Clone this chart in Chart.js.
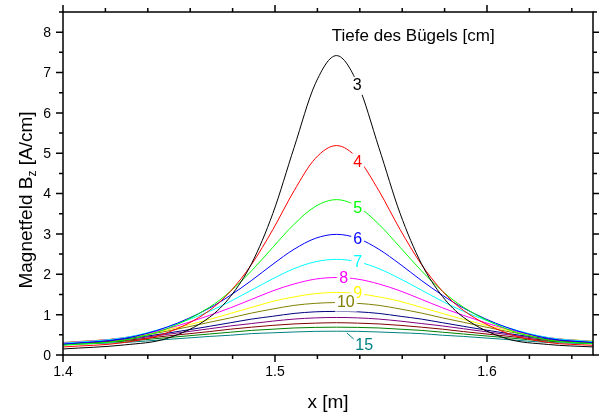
<!DOCTYPE html>
<html lang="de">
<head>
<meta charset="UTF-8">
<title>Magnetfeld Bz über dem Bügel</title>
<script src="https://cdn.jsdelivr.net/npm/chart.js"></script>
<style>
    html, body {
        margin: 0;
        padding: 0;
        background: #fff;
    }

    #wrap {
        width: 599px;
        height: 414px;
    }
</style>
</head>
<body>
<div id="wrap"><canvas id="feldChart" width="599" height="414"></canvas></div>
<script>
    // Messpositionen x [m]
    const xPos = [1.400, 1.429, 1.449, 1.469, 1.479, 1.489, 1.499, 1.509, 1.519, 1.529,
                  1.539, 1.549, 1.559, 1.569, 1.579, 1.589, 1.609, 1.629, 1.650];

    // Bz [A/cm] für jede Tiefe des Bügels [cm]
    const bz3  = [0.15, 0.25, 0.41, 0.93, 1.45, 2.27, 3.51, 5.14, 6.72, 7.42, 6.72, 5.14, 3.51, 2.27, 1.45, 0.93, 0.41, 0.26, 0.20];
    const bz4  = [0.20, 0.31, 0.55, 1.10, 1.58, 2.25, 3.11, 4.07, 4.87, 5.19, 4.87, 4.07, 3.11, 2.25, 1.58, 1.10, 0.55, 0.31, 0.24];
    const bz5  = [0.24, 0.37, 0.65, 1.18, 1.58, 2.09, 2.67, 3.24, 3.68, 3.85, 3.68, 3.24, 2.67, 2.09, 1.58, 1.18, 0.65, 0.37, 0.28];
    const bz6  = [0.27, 0.41, 0.69, 1.16, 1.48, 1.85, 2.25, 2.62, 2.89, 2.99, 2.89, 2.62, 2.25, 1.85, 1.48, 1.16, 0.69, 0.41, 0.31];
    const bz7  = [0.29, 0.43, 0.69, 1.08, 1.33, 1.61, 1.89, 2.14, 2.31, 2.37, 2.31, 2.14, 1.89, 1.61, 1.33, 1.08, 0.69, 0.43, 0.33];
    const bz8  = [0.30, 0.43, 0.65, 0.98, 1.17, 1.38, 1.59, 1.76, 1.88, 1.92, 1.88, 1.76, 1.59, 1.38, 1.17, 0.98, 0.65, 0.43, 0.33];
    const bz9  = [0.30, 0.43, 0.62, 0.88, 1.03, 1.18, 1.33, 1.44, 1.52, 1.55, 1.52, 1.44, 1.33, 1.18, 1.03, 0.88, 0.62, 0.43, 0.34];
    const bz10 = [0.31, 0.42, 0.59, 0.81, 0.92, 1.04, 1.14, 1.23, 1.28, 1.30, 1.28, 1.23, 1.14, 1.04, 0.92, 0.81, 0.59, 0.42, 0.34];
    const bz11 = [0.30, 0.40, 0.54, 0.71, 0.80, 0.89, 0.96, 1.03, 1.07, 1.08, 1.07, 1.03, 0.96, 0.89, 0.80, 0.71, 0.54, 0.40, 0.33];
    const bz12 = [0.29, 0.38, 0.51, 0.65, 0.72, 0.78, 0.84, 0.89, 0.92, 0.93, 0.92, 0.89, 0.84, 0.78, 0.72, 0.65, 0.51, 0.38, 0.32];
    const bz13 = [0.285, 0.36, 0.47, 0.58, 0.64, 0.69, 0.735, 0.77, 0.79, 0.80, 0.79, 0.77, 0.735, 0.69, 0.64, 0.58, 0.47, 0.36, 0.31];
    const bz14 = [0.28, 0.34, 0.43, 0.52, 0.565, 0.61, 0.64, 0.67, 0.684, 0.69, 0.684, 0.67, 0.64, 0.61, 0.565, 0.52, 0.43, 0.34, 0.30];
    const bz15 = [0.26, 0.31, 0.385, 0.46, 0.49, 0.53, 0.55, 0.57, 0.586, 0.59, 0.586, 0.57, 0.55, 0.53, 0.49, 0.46, 0.385, 0.31, 0.28];

    const tiefen = [3, 4, 5, 6, 7, 8, 9, 10, 11, 12, 13, 14, 15];
    const serien = [bz3, bz4, bz5, bz6, bz7, bz8, bz9, bz10, bz11, bz12, bz13, bz14, bz15];

    // Achsenbeschriftung
    const xTicks = [1.4, 1.5, 1.6];
    const yTicks = [0, 1, 2, 3, 4, 5, 6, 7, 8];

    // Kurvenbeschriftung direkt an den Linien (Position in Achsenwerten)
    const kurvenText = ['3', '4', '5', '6', '7', '8', '9', '10', '15'];
    const kurvenX = [1.5388, 1.5390, 1.5390, 1.5390, 1.5390, 1.5324, 1.5390, 1.5334, 1.5421];
    const kurvenY = [6.67, 4.77, 3.64, 2.85, 2.29, 1.89, 1.52, 1.30, 0.23];

    const farben = ['#000000', '#ff0000', '#00ff00', '#0000ff', '#00ffff', '#ff00ff', '#ffff00',
                    '#808000', '#000080', '#800080', '#800000', '#008000', '#008080'];

    const schrift = 'Arial, "Liberation Sans", Helvetica, sans-serif';
    Chart.defaults.font.family = schrift;
    Chart.defaults.color = '#000';

    function farbeFuer(text) {
        return farben[tiefen.indexOf(Number(text))];
    }

    // Rahmen mit Haupt- und Nebenstrichen nach außen
    const rahmen = {
        id: 'rahmen',
        afterDraw(chart) {
            const { ctx, chartArea: a, scales: { x, y } } = chart;
            ctx.save();
            ctx.strokeStyle = '#000';
            ctx.lineWidth = 1.5;
            ctx.strokeRect(a.left, a.top, a.right - a.left, a.bottom - a.top);

            ctx.beginPath();
            for (let v = 1.4; v < 1.65 + 1e-9; v += 0.02) {
                const px = x.getPixelForValue(v);
                const major = xTicks.some(t => Math.abs(t - v) < 1e-6);
                const len = major ? 7 : 4;
                ctx.moveTo(px, a.bottom);
                ctx.lineTo(px, a.bottom + len);
                ctx.moveTo(px, a.top);
                ctx.lineTo(px, a.top - len);
            }
            for (let v = 0; v < 8.5 + 1e-9; v += 0.5) {
                const py = y.getPixelForValue(v);
                const major = yTicks.includes(v);
                const len = major ? 7 : 4;
                ctx.moveTo(a.left, py);
                ctx.lineTo(a.left - len, py);
                ctx.moveTo(a.right, py);
                ctx.lineTo(a.right + len, py);
            }
            ctx.stroke();

            // Achsentitel
            ctx.fillStyle = '#000';
            ctx.textAlign = 'center';
            ctx.textBaseline = 'middle';
            ctx.font = '19px ' + schrift;
            ctx.fillText('x [m]', (a.left + a.right) / 2, 403);

            ctx.translate(25, 200);
            ctx.rotate(-Math.PI / 2);
            ctx.textAlign = 'left';
            ctx.textBaseline = 'alphabetic';
            const t1 = 'Magnetfeld B', t2 = 'z', t3 = ' [A/cm]';
            ctx.font = '19px ' + schrift;
            const w1 = ctx.measureText(t1).width, w3 = ctx.measureText(t3).width;
            ctx.font = '12px ' + schrift;
            const w2 = ctx.measureText(t2).width;
            let cx = -(w1 + w2 + w3) / 2;
            ctx.font = '19px ' + schrift;
            ctx.fillText(t1, cx, 7);
            cx += w1;
            ctx.font = '12px ' + schrift;
            ctx.fillText(t2, cx, 11);
            cx += w2;
            ctx.font = '19px ' + schrift;
            ctx.fillText(t3, cx, 7);
            ctx.restore();
        }
    };

    // Zahlen auf den Kurven, Linie darunter ausgespart
    const beschriftung = {
        id: 'beschriftung',
        afterDatasetsDraw(chart) {
            const { ctx, scales: { x, y } } = chart;
            ctx.save();
            ctx.textAlign = 'center';
            ctx.textBaseline = 'middle';
            ctx.font = '16px ' + schrift;

            // kurzer Hinweisstrich von der untersten Kurve zur 15
            ctx.strokeStyle = farbeFuer('15');
            ctx.lineWidth = 1;
            ctx.beginPath();
            ctx.moveTo(x.getPixelForValue(1.5339), y.getPixelForValue(0.545));
            ctx.lineTo(x.getPixelForValue(1.5371), y.getPixelForValue(0.397));
            ctx.stroke();

            kurvenText.forEach((t, i) => {
                const px = x.getPixelForValue(kurvenX[i]);
                const py = y.getPixelForValue(kurvenY[i]);
                const w = ctx.measureText(t).width;
                if (t !== '15') {
                    ctx.fillStyle = '#fff';
                    ctx.fillRect(px - w / 2 - 2, py - 9, w + 4, 18);
                }
                ctx.fillStyle = farbeFuer(t);
                ctx.fillText(t, px, py);
            });

            ctx.fillStyle = '#000';
            ctx.font = '17px ' + schrift;
            ctx.fillText('Tiefe des Bügels [cm]', x.getPixelForValue(1.5652), y.getPixelForValue(7.90));
            ctx.restore();
        }
    };

    new Chart(document.getElementById('feldChart'), {
        type: 'line',
        data: {
            datasets: tiefen.map((t, i) => ({
                label: t + ' cm',
                data: xPos.map((xv, j) => ({ x: xv, y: serien[i][j] })),
                borderColor: farben[i],
                borderWidth: 1,
                pointRadius: 0,
                fill: false,
                cubicInterpolationMode: 'monotone'
            }))
        },
        options: {
            responsive: false,
            animation: false,
            layout: { padding: { top: 12, right: 6, left: 0, bottom: 0 } },
            plugins: {
                legend: { display: false },
                tooltip: { enabled: false }
            },
            scales: {
                x: {
                    type: 'linear',
                    min: 1.4,
                    max: 1.65,
                    grid: { display: false, drawTicks: false },
                    border: { display: false },
                    afterFit: s => {
                        s.height = 59;
                        s.paddingLeft = 0;
                        s.paddingRight = 0;
                    },
                    afterBuildTicks: s => { s.ticks = xTicks.map(v => ({ value: v })); },
                    ticks: {
                        padding: 9,
                        maxRotation: 0,
                        font: { size: 14 },
                        callback: v => v.toFixed(1)
                    }
                },
                y: {
                    type: 'linear',
                    min: 0,
                    max: 8.5,
                    grid: { display: false, drawTicks: false },
                    border: { display: false },
                    afterFit: s => {
                        s.width = 63;
                        s.paddingTop = 0;
                        s.paddingBottom = 0;
                    },
                    afterBuildTicks: s => { s.ticks = yTicks.map(v => ({ value: v })); },
                    ticks: {
                        padding: 12,
                        labelOffset: 1,
                        font: { size: 14 },
                        callback: v => String(v)
                    }
                }
            }
        },
        plugins: [rahmen, beschriftung]
    });
</script>
</body>
</html>
